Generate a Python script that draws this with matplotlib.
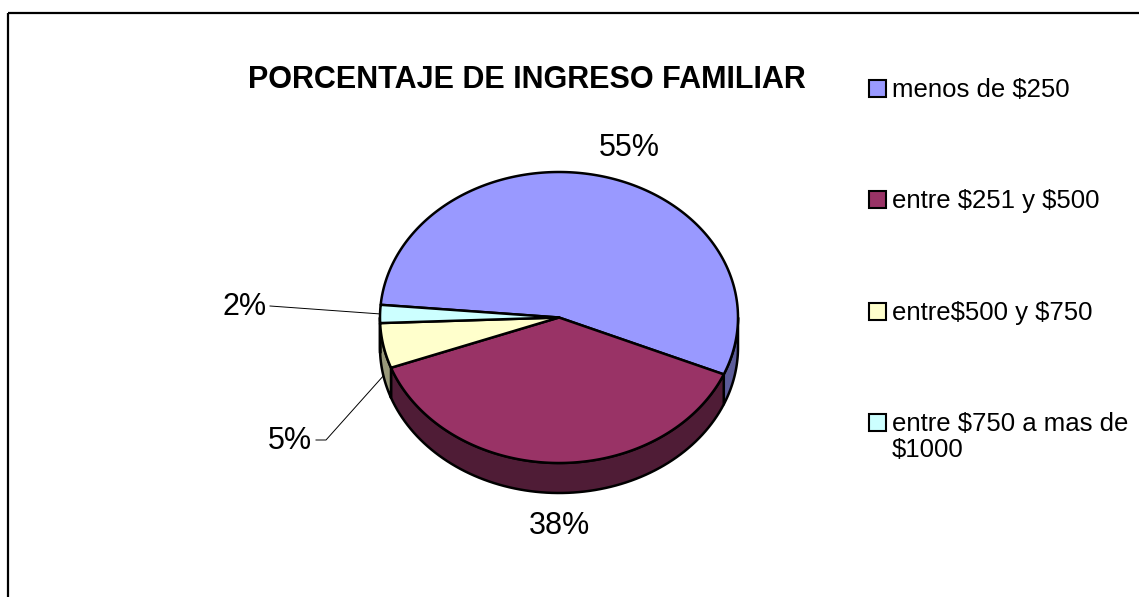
"""3D-style pie: porcentaje de ingreso familiar (Excel look)."""
import numpy as np
import matplotlib.pyplot as plt
from matplotlib.patches import Polygon, Rectangle

plt.rcParams["font.family"] = ["Liberation Sans", "DejaVu Sans"]
plt.rcParams["text.parse_math"] = False

categories = ["menos de $250", "entre $251 y $500", "entre$500 y $750",
              "entre $750 a mas de\n$1000"]
values = [55, 38, 5, 2]
pct_labels = ["55%", "38%", "5%", "2%"]

top_colors = ["#9999FF", "#993366", "#FFFFCC", "#CCFFFF"]
side_colors = ["#5C5C99", "#4F1C36", "#99997A", "#7A9999"]

# pie geometry in pixel space (y grows downwards)
CX, CY = 559, 317.5
RX, RY = 179, 145.5
DEPTH = 30
START = 175.0  # first slice starts here and runs clockwise
EDGE_LW = 1.8

# label text positions (pixels) and alignment
label_pos = [(629, 148, "center"), (559, 526, "center"),
             (312, 441, "right"), (267, 307, "right")]


def pt(t_deg, dz=0.0):
    t = np.radians(t_deg)
    return CX + RX * np.cos(t), CY - RY * np.sin(t) + dz


def main() -> None:
    fig = plt.figure(figsize=(11.39, 5.97), dpi=100)
    ax = fig.add_axes([0, 0, 1, 1])
    ax.set_xlim(0, 1139)
    ax.set_ylim(597, 0)
    ax.axis("off")

    # frame (only left/top edges fall inside the picture)
    ax.add_patch(Rectangle((8, 13), 1200, 700, fill=False, ec="black", lw=1.6))

    fracs = np.array(values, dtype=float) / sum(values)
    edges = START - 360 * np.concatenate([[0], np.cumsum(fracs)])

    # side walls on the front half (angles between -180 and 0)
    for i in range(len(values)):
        hi, lo = edges[i], edges[i + 1]
        a = max(lo, -180.0)
        b = min(hi, 0.0)
        if b <= a:
            continue
        ts = np.linspace(a, b, 80)
        upper = np.array([pt(t) for t in ts])
        lower = np.array([pt(t, DEPTH) for t in ts[::-1]])
        ax.add_patch(Polygon(np.vstack([upper, lower]), closed=True,
                             fc=side_colors[i], ec="black", lw=EDGE_LW,
                             joinstyle="round"))

    # top faces
    for i in range(len(values)):
        ts = np.linspace(edges[i], edges[i + 1], 200)
        arc = np.array([pt(t) for t in ts])
        poly = np.vstack([[CX, CY], arc])
        ax.add_patch(Polygon(poly, closed=True, fc=top_colors[i], ec="black",
                             lw=EDGE_LW, joinstyle="round"))

    # percentage labels and leader lines
    for i, (tx, ty, ha) in enumerate(label_pos):
        ax.text(tx, ty, pct_labels[i], fontsize=22, ha=ha, va="center")
    mid = (edges[:-1] + edges[1:]) / 2
    ax5 = pt(mid[2], DEPTH)
    ax.plot([316, 326, ax5[0]], [440, 440, ax5[1]], color="black", lw=0.7)
    ax2 = pt(mid[3])
    ax.plot([270, ax2[0]], [306, ax2[1]], color="black", lw=0.7)

    # title
    ax.text(527, 80, "PORCENTAJE DE INGRESO FAMILIAR", fontsize=22,
            fontweight="bold", ha="center", va="center")

    # legend
    for i, cat in enumerate(categories):
        base = 97 + 111.3 * i
        ax.add_patch(Rectangle((869, base - 17), 17, 17, fc=top_colors[i],
                               ec="black", lw=1.5))
        for k, line in enumerate(cat.split("\n")):
            ax.text(892, base + 26.5 * k, line, fontsize=18.5, ha="left",
                    va="baseline")

    fig.savefig("out.png", dpi=100)


if __name__ == "__main__":
    main()
